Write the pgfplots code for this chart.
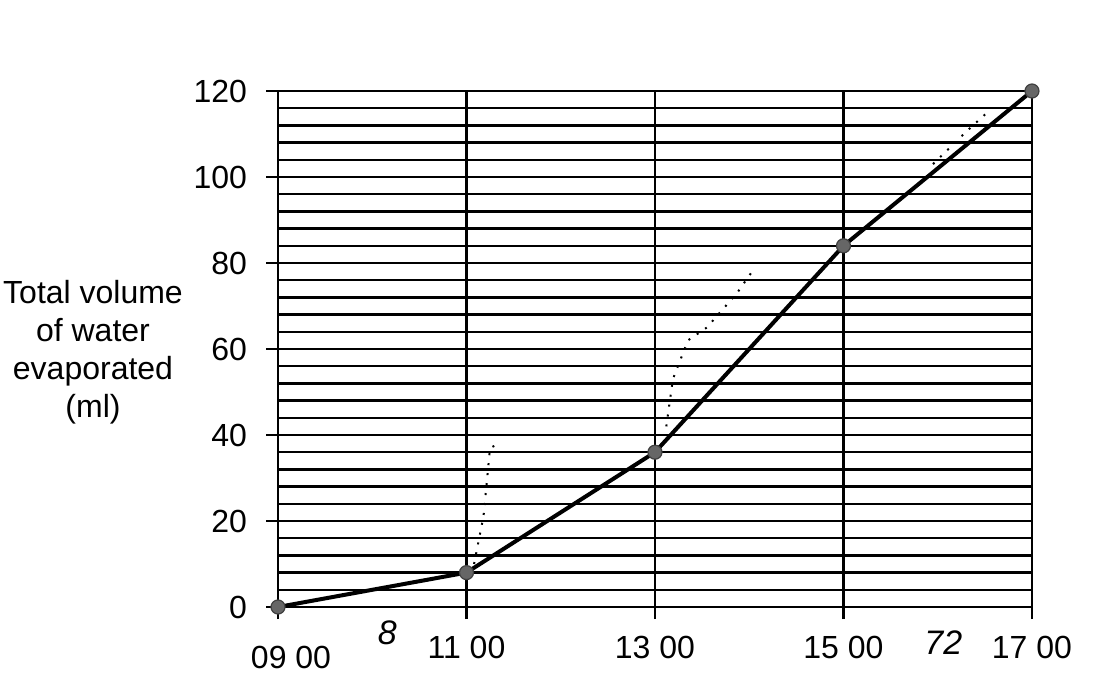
\documentclass[border=0pt]{standalone}
\usepackage{pgfplots}
\pgfplotsset{compat=1.18}
\usepackage{fontspec}
\setmainfont{Liberation Sans}
\begin{document}
\begin{tikzpicture}
\path[use as bounding box] (0,0) rectangle (554.5pt,-342pt);
\node[align=center, font=\fontsize{16}{19}\selectfont] at (46.5pt,-176pt) {Total volume\\of water\\evaporated\\(ml)};
\begin{axis}[
  at={(139pt,-303.5pt)}, anchor=south west,
  scale only axis, width=377pt, height=258pt,
  xmin=9, xmax=17, ymin=0, ymax=120,
  xtick={9,11,13,15,17},
  xticklabels={{\hspace*{13pt}\raisebox{-5pt}[\height][0pt]{09 00}},11 00,13 00,15 00,17 00},
  ytick={0,20,...,120},
  minor ytick={4,8,12,16,24,28,32,36,44,48,52,56,64,68,72,76,84,88,92,96,104,108,112,116},
  grid=both,
  major grid style={black, line width=1.2pt},
  minor grid style={black, line width=1.2pt},
  axis line style={black, line width=1.2pt},
  tick pos=left, tick align=outside,
  major tick length=6pt, minor tick length=0pt,
  tick style={black, line width=1.2pt},
  /pgf/number format/assume math mode=true,
  ticklabel style={font=\fontsize{16}{18}\selectfont},
  yticklabel style={xshift=-6pt},
  xticklabel style={yshift=-5pt},
  clip=false,
]
\addplot[black, line width=2pt, mark=*, mark size=3.5pt,
  mark options={fill=gray!80!black, draw=black!75, line width=0.6pt}]
  coordinates {(9,0) (11,8) (13,36) (15,84) (17,120)};
\addplot[black, line width=1pt, dash pattern=on 1pt off 4pt]
  coordinates {(11.08,10) (11.18,21) (11.25,37) (11.35,38)};
\addplot[black, line width=1pt, dash pattern=on 1pt off 4pt]
  coordinates {(13.12,42) (13.19,53) (13.35,62) (13.55,65) (13.87,73) (14.03,78)};
\addplot[black, line width=1pt, dash pattern=on 1pt off 4pt]
  coordinates {(15.95,103) (16.3,110.5) (16.55,115.5)};
\node[font=\fontsize{17}{18}\selectfont\itshape] at (axis cs:10.16,-6) {8};
\node[font=\fontsize{17}{18}\selectfont\itshape] at (axis cs:16.06,-8.4) {72};
\end{axis}
\end{tikzpicture}
\end{document}
